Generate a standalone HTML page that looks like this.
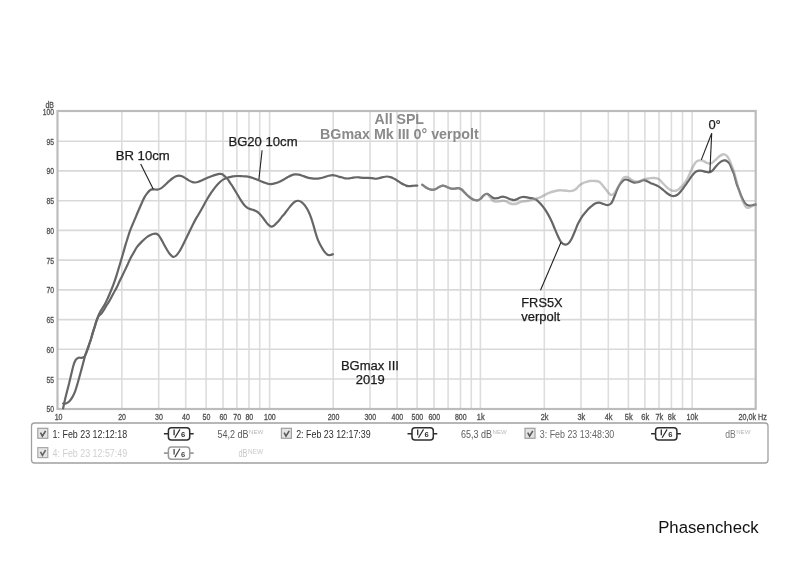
<!DOCTYPE html>
<html><head><meta charset="utf-8"><title>All SPL</title>
<style>
html,body{margin:0;padding:0;background:#fff;}
body{width:800px;height:566px;overflow:hidden;position:relative;}
svg{position:absolute;left:0;top:0;display:block;filter:grayscale(1);}
text{font-family:"Liberation Sans",sans-serif;}
.lab{stroke:#505050;stroke-width:0.3px;}
.ann{stroke:#1c1c1c;stroke-width:0.25px;}
</style></head><body>
<svg width="800" height="566" viewBox="0 0 800 566">
<rect x="0" y="0" width="800" height="566" fill="#fff"/>

<path d="M121.8 111V409M158.7 111V409M185.7 111V409M206.1 111V409M223.0 111V409M236.9 111V409M249.0 111V409M259.7 111V409M269.6 111V409M333.2 111V409M370.0 111V409M397.1 111V409M417.1 111V409M434.0 111V409M448.1 111V409M460.5 111V409M471.3 111V409M480.4 111V409M544.3 111V409M581.0 111V409M608.3 111V409M628.4 111V409M644.9 111V409M659.0 111V409M671.4 111V409M682.5 111V409M692.1 111V409" stroke="#dddddd" stroke-width="1.6" fill="none"/>
<path d="M58 379.0H755.6M58 349.3H755.6M58 319.6H755.6M58 289.9H755.6M58 260.1H755.6M58 230.4H755.6M58 200.7H755.6M58 170.9H755.6M58 141.2H755.6" stroke="#d9d9d9" stroke-width="1.6" fill="none"/>
<text x="374.5" y="124.2" font-size="14" font-weight="bold" fill="#8a8a8a" textLength="49.5" lengthAdjust="spacingAndGlyphs">All SPL</text>
<text x="320" y="139" font-size="14" font-weight="bold" fill="#8a8a8a" textLength="158.7" lengthAdjust="spacingAndGlyphs">BGmax Mk III 0&#176; verpolt</text>
<rect x="57.5" y="111" width="698.2" height="298" fill="none" stroke="#bcbcbc" stroke-width="2.2"/>
<path d="M63.10 408.50 C63.38 407.15 64.15 403.22 64.80 400.40 C65.45 397.58 66.27 394.52 67.00 391.60 C67.73 388.68 68.48 385.82 69.20 382.90 C69.92 379.98 70.58 377.03 71.30 374.10 C72.02 371.17 72.77 367.67 73.50 365.30 C74.23 362.93 74.87 361.17 75.70 359.90 C76.53 358.63 77.48 358.03 78.50 357.70 C79.52 357.37 80.80 358.08 81.80 357.90 C82.80 357.72 83.78 357.37 84.50 356.60 C85.22 355.83 85.55 354.57 86.10 353.30 C86.65 352.03 87.25 350.63 87.80 349.00 C88.35 347.37 88.92 345.00 89.40 343.50 C89.88 342.00 90.17 341.68 90.70 340.00 C91.23 338.32 91.95 335.55 92.60 333.40 C93.25 331.25 93.95 329.18 94.60 327.10 C95.25 325.02 95.85 322.83 96.50 320.90 C97.15 318.97 97.92 316.93 98.50 315.50 C99.08 314.07 99.37 313.47 100.00 312.30 C100.63 311.13 101.52 309.78 102.30 308.50 C103.08 307.22 103.92 306.03 104.70 304.60 C105.48 303.17 106.18 301.67 107.00 299.90 C107.82 298.13 108.78 295.92 109.60 294.00 C110.42 292.08 111.12 290.38 111.90 288.40 C112.68 286.42 113.50 284.35 114.30 282.10 C115.10 279.85 115.90 277.43 116.70 274.90 C117.50 272.37 118.30 269.58 119.10 266.90 C119.90 264.22 120.77 261.28 121.50 258.80 C122.23 256.32 122.82 254.37 123.50 252.00 C124.18 249.63 124.90 246.95 125.60 244.60 C126.30 242.25 127.00 240.10 127.70 237.90 C128.40 235.70 128.95 233.72 129.80 231.40 C130.65 229.08 131.90 226.17 132.80 224.00 C133.70 221.83 134.42 220.27 135.20 218.40 C135.98 216.53 136.72 214.65 137.50 212.80 C138.28 210.95 139.10 209.15 139.90 207.30 C140.70 205.45 141.50 203.43 142.30 201.70 C143.10 199.97 143.90 198.28 144.70 196.90 C145.50 195.52 146.30 194.45 147.10 193.40 C147.90 192.35 148.70 191.27 149.50 190.60 C150.30 189.93 151.10 189.60 151.90 189.40 C152.70 189.20 153.41 189.37 154.30 189.40 C155.19 189.43 156.13 189.77 157.25 189.60 C158.37 189.43 159.75 189.12 161.00 188.40 C162.25 187.68 163.50 186.38 164.75 185.25 C166.00 184.12 167.25 182.78 168.50 181.65 C169.75 180.53 171.00 179.40 172.25 178.50 C173.50 177.60 174.88 176.72 176.00 176.25 C177.12 175.78 178.00 175.65 179.00 175.65 C180.00 175.65 181.00 175.88 182.00 176.25 C183.00 176.62 183.88 177.21 185.00 177.90 C186.12 178.59 187.50 179.70 188.75 180.40 C190.00 181.10 191.38 181.75 192.50 182.10 C193.62 182.45 194.50 182.55 195.50 182.50 C196.50 182.45 197.40 182.18 198.50 181.80 C199.60 181.42 200.77 180.80 202.10 180.20 C203.43 179.60 205.03 178.82 206.50 178.20 C207.97 177.58 209.43 177.05 210.90 176.50 C212.37 175.95 213.83 175.35 215.30 174.90 C216.77 174.45 218.52 173.90 219.70 173.80 C220.88 173.70 221.52 173.85 222.40 174.30 C223.28 174.75 224.12 175.70 225.00 176.50 C225.88 177.30 226.82 178.00 227.70 179.10 C228.58 180.20 229.42 181.77 230.30 183.10 C231.18 184.43 232.12 185.70 233.00 187.10 C233.88 188.50 234.77 190.10 235.60 191.50 C236.43 192.90 237.27 194.27 238.00 195.50 C238.73 196.73 239.23 197.68 240.00 198.90 C240.77 200.12 241.73 201.60 242.60 202.80 C243.47 204.00 244.33 205.22 245.20 206.10 C246.07 206.98 246.92 207.60 247.80 208.10 C248.68 208.60 249.62 208.80 250.50 209.10 C251.38 209.40 252.23 209.58 253.10 209.90 C253.97 210.22 254.83 210.55 255.70 211.00 C256.57 211.45 257.43 211.88 258.30 212.60 C259.17 213.32 260.03 214.32 260.90 215.30 C261.77 216.28 262.63 217.37 263.50 218.50 C264.37 219.63 265.22 221.00 266.10 222.10 C266.98 223.20 267.92 224.33 268.80 225.10 C269.68 225.87 270.53 226.60 271.40 226.70 C272.27 226.80 273.13 226.30 274.00 225.70 C274.87 225.10 275.73 224.02 276.60 223.10 C277.47 222.18 278.33 221.23 279.20 220.20 C280.07 219.17 280.93 217.93 281.80 216.90 C282.67 215.87 283.52 215.08 284.40 214.00 C285.28 212.92 286.17 211.63 287.10 210.40 C288.03 209.17 289.28 207.50 290.00 206.60 C290.72 205.70 290.60 205.82 291.40 205.00 C292.20 204.18 293.67 202.41 294.80 201.70 C295.93 200.99 297.07 200.67 298.20 200.75 C299.33 200.83 300.47 201.39 301.60 202.20 C302.73 203.01 303.87 204.08 305.00 205.60 C306.13 207.12 307.37 209.22 308.40 211.30 C309.43 213.38 310.35 215.75 311.20 218.10 C312.05 220.45 312.75 222.87 313.50 225.40 C314.25 227.93 314.95 230.85 315.70 233.30 C316.45 235.75 317.15 238.02 318.00 240.10 C318.85 242.18 319.77 243.92 320.80 245.80 C321.83 247.68 323.07 249.90 324.20 251.40 C325.33 252.90 326.57 254.20 327.60 254.80 C328.63 255.40 329.52 255.10 330.40 255.00 C331.28 254.90 332.48 254.33 332.90 254.20" stroke="#666666" stroke-width="2.2" fill="none" stroke-linejoin="round" stroke-linecap="round"/>
<path d="M63.10 403.50 C63.57 403.50 64.88 403.83 65.90 403.50 C66.92 403.17 68.12 402.57 69.20 401.50 C70.28 400.43 71.40 398.83 72.40 397.10 C73.40 395.37 74.37 393.28 75.20 391.10 C76.03 388.92 76.67 386.47 77.40 384.00 C78.13 381.53 78.87 378.95 79.60 376.30 C80.33 373.65 81.07 370.83 81.80 368.10 C82.53 365.37 83.47 361.92 84.00 359.90 C84.53 357.88 84.55 357.47 85.00 356.00 C85.45 354.53 86.13 352.68 86.70 351.10 C87.27 349.52 87.73 348.35 88.40 346.50 C89.07 344.65 90.00 342.18 90.70 340.00 C91.40 337.82 91.95 335.55 92.60 333.40 C93.25 331.25 93.95 329.18 94.60 327.10 C95.25 325.02 95.83 322.72 96.50 320.90 C97.17 319.08 97.82 317.37 98.60 316.20 C99.38 315.03 100.32 314.93 101.20 313.90 C102.08 312.87 103.00 311.43 103.90 310.00 C104.80 308.57 105.62 306.92 106.60 305.30 C107.58 303.68 108.65 302.32 109.80 300.30 C110.95 298.28 112.35 295.32 113.50 293.20 C114.65 291.08 115.63 289.72 116.70 287.60 C117.77 285.48 118.83 282.75 119.90 280.50 C120.97 278.25 122.25 275.83 123.10 274.10 C123.95 272.37 124.28 271.62 125.00 270.10 C125.72 268.58 126.48 266.98 127.40 265.00 C128.32 263.02 129.38 260.38 130.50 258.20 C131.62 256.02 133.00 253.78 134.10 251.90 C135.20 250.02 135.77 248.65 137.10 246.90 C138.43 245.15 140.45 243.05 142.10 241.40 C143.75 239.75 145.68 238.03 147.00 237.00 C148.32 235.97 149.04 235.70 150.00 235.20 C150.96 234.70 151.79 234.27 152.75 234.00 C153.71 233.73 154.81 233.42 155.75 233.60 C156.69 233.78 157.53 234.22 158.40 235.10 C159.28 235.98 160.07 237.33 161.00 238.90 C161.93 240.47 163.00 242.69 164.00 244.50 C165.00 246.31 166.00 248.12 167.00 249.75 C168.00 251.38 169.00 253.06 170.00 254.25 C171.00 255.44 172.00 256.65 173.00 256.90 C174.00 257.15 175.00 256.57 176.00 255.75 C177.00 254.93 178.00 253.50 179.00 252.00 C180.00 250.50 181.00 248.62 182.00 246.75 C183.00 244.88 183.95 242.89 185.00 240.75 C186.05 238.61 187.17 236.22 188.30 233.90 C189.43 231.58 190.63 229.13 191.80 226.80 C192.97 224.47 194.18 221.95 195.30 219.90 C196.42 217.85 197.37 216.45 198.50 214.50 C199.63 212.55 200.77 210.57 202.10 208.20 C203.43 205.83 205.03 202.80 206.50 200.30 C207.97 197.80 209.43 195.40 210.90 193.20 C212.37 191.00 213.83 188.93 215.30 187.10 C216.77 185.27 218.23 183.53 219.70 182.20 C221.17 180.87 222.63 179.90 224.10 179.10 C225.57 178.30 227.02 177.87 228.50 177.40 C229.98 176.93 231.52 176.53 233.00 176.30 C234.48 176.07 235.93 176.02 237.40 176.00 C238.87 175.98 240.53 176.13 241.80 176.20 C243.07 176.27 243.80 176.30 245.00 176.40 C246.20 176.50 247.67 176.53 249.00 176.80 C250.33 177.07 251.68 177.53 253.00 178.00 C254.32 178.47 255.58 179.07 256.90 179.60 C258.22 180.13 259.57 180.67 260.90 181.20 C262.23 181.73 263.57 182.33 264.90 182.80 C266.23 183.27 267.58 183.83 268.90 184.00 C270.22 184.17 271.48 184.00 272.80 183.80 C274.12 183.60 275.60 183.20 276.80 182.80 C278.00 182.40 278.84 181.95 280.00 181.40 C281.16 180.85 282.50 180.19 283.75 179.50 C285.00 178.81 286.25 177.93 287.50 177.25 C288.75 176.57 290.00 175.88 291.25 175.40 C292.50 174.93 293.75 174.53 295.00 174.40 C296.25 174.27 297.50 174.38 298.75 174.60 C300.00 174.82 301.25 175.33 302.50 175.75 C303.75 176.17 305.00 176.70 306.25 177.10 C307.50 177.50 308.75 177.90 310.00 178.15 C311.25 178.40 312.50 178.53 313.75 178.60 C315.00 178.67 316.25 178.70 317.50 178.60 C318.75 178.50 320.00 178.28 321.25 178.00 C322.50 177.72 323.75 177.28 325.00 176.90 C326.25 176.53 327.50 176.04 328.75 175.75 C330.00 175.46 331.25 175.15 332.50 175.15 C333.75 175.15 335.08 175.46 336.25 175.75 C337.42 176.04 338.58 176.65 339.50 176.90 C340.42 177.15 340.75 177.00 341.75 177.25 C342.75 177.50 344.25 178.21 345.50 178.40 C346.75 178.59 348.00 178.53 349.25 178.40 C350.50 178.27 351.75 177.79 353.00 177.60 C354.25 177.41 355.50 177.25 356.75 177.25 C358.00 177.25 359.25 177.50 360.50 177.60 C361.75 177.70 363.00 177.81 364.25 177.85 C365.50 177.89 366.75 177.80 368.00 177.85 C369.25 177.90 370.50 178.00 371.75 178.15 C373.00 178.30 374.25 178.75 375.50 178.75 C376.75 178.75 378.00 178.43 379.25 178.15 C380.50 177.88 381.75 177.38 383.00 177.10 C384.25 176.82 385.50 176.50 386.75 176.50 C388.00 176.50 389.24 176.72 390.50 177.10 C391.76 177.48 393.27 178.28 394.30 178.80 C395.33 179.32 395.92 179.72 396.70 180.20 C397.48 180.68 398.23 181.18 399.00 181.70 C399.77 182.22 400.52 182.82 401.30 183.30 C402.08 183.78 402.92 184.22 403.70 184.60 C404.48 184.98 405.23 185.33 406.00 185.60 C406.77 185.87 407.52 186.12 408.30 186.20 C409.08 186.28 409.92 186.17 410.70 186.10 C411.48 186.03 412.23 185.88 413.00 185.80 C413.77 185.72 414.58 185.63 415.30 185.60 C416.02 185.57 416.97 185.60 417.30 185.60" stroke="#666666" stroke-width="2.2" fill="none" stroke-linejoin="round" stroke-linecap="round"/>
<path d="M422.25 184.75 C422.81 185.18 424.48 186.59 425.60 187.30 C426.73 188.01 427.87 188.58 429.00 189.00 C430.13 189.42 431.27 189.80 432.40 189.80 C433.52 189.80 434.63 189.47 435.75 189.00 C436.87 188.53 437.98 187.57 439.10 187.00 C440.23 186.43 441.47 185.73 442.50 185.60 C443.53 185.47 444.37 185.87 445.30 186.20 C446.23 186.53 447.07 187.18 448.10 187.60 C449.13 188.02 450.37 188.52 451.50 188.70 C452.63 188.88 453.77 188.80 454.90 188.70 C456.02 188.60 457.13 187.97 458.25 188.10 C459.37 188.23 460.48 188.70 461.60 189.50 C462.73 190.30 463.90 191.82 465.00 192.90 C466.10 193.98 467.28 195.17 468.20 196.00 C469.12 196.83 469.57 197.28 470.50 197.90 C471.43 198.52 472.58 199.30 473.75 199.70 C474.92 200.10 476.36 200.46 477.50 200.30 C478.64 200.14 479.56 199.58 480.60 198.75 C481.64 197.92 482.70 196.13 483.75 195.30 C484.80 194.47 485.86 193.70 486.90 193.75 C487.94 193.80 488.86 194.88 490.00 195.60 C491.14 196.32 492.50 197.67 493.75 198.10 C495.00 198.53 496.46 198.33 497.50 198.20 C498.54 198.07 499.12 197.55 500.00 197.30 C500.88 197.05 501.87 196.70 502.80 196.70 C503.73 196.70 504.67 197.02 505.60 197.30 C506.53 197.58 507.46 198.03 508.40 198.40 C509.34 198.77 510.30 199.22 511.25 199.50 C512.20 199.78 513.16 200.14 514.10 200.10 C515.04 200.06 515.97 199.63 516.90 199.25 C517.83 198.87 518.77 198.18 519.70 197.80 C520.63 197.43 521.57 197.12 522.50 197.00 C523.43 196.88 524.37 197.00 525.30 197.10 C526.23 197.20 527.17 197.43 528.10 197.60 C529.03 197.77 529.96 197.92 530.90 198.10 C531.84 198.28 532.90 198.47 533.75 198.70 C534.60 198.93 535.25 199.03 536.00 199.50 C536.75 199.97 537.50 200.79 538.25 201.50 C539.00 202.21 539.75 202.93 540.50 203.75 C541.25 204.57 542.03 205.49 542.75 206.40 C543.47 207.31 543.84 207.75 544.80 209.20 C545.76 210.65 547.35 213.05 548.50 215.10 C549.65 217.15 550.65 219.20 551.70 221.50 C552.75 223.80 553.75 226.43 554.80 228.90 C555.85 231.37 556.93 234.08 558.00 236.30 C559.07 238.52 559.97 240.82 561.20 242.20 C562.43 243.58 564.17 244.43 565.40 244.60 C566.63 244.77 567.53 244.23 568.60 243.20 C569.67 242.17 570.73 240.43 571.80 238.40 C572.87 236.37 573.95 233.47 575.00 231.00 C576.05 228.53 576.87 226.07 578.10 223.60 C579.33 221.13 580.98 218.32 582.40 216.20 C583.82 214.08 585.18 212.48 586.60 210.90 C588.02 209.32 589.48 207.93 590.90 206.70 C592.32 205.47 593.70 204.18 595.10 203.50 C596.50 202.82 597.88 202.52 599.30 202.60 C600.72 202.68 602.18 203.58 603.60 204.00 C605.02 204.42 606.57 205.18 607.80 205.10 C609.03 205.02 610.13 204.35 611.00 203.50 C611.87 202.65 612.33 201.42 613.00 200.00 C613.67 198.58 614.33 196.67 615.00 195.00 C615.67 193.33 616.25 191.67 617.00 190.00 C617.75 188.33 618.53 186.52 619.50 185.00 C620.47 183.48 621.78 181.82 622.80 180.90 C623.82 179.98 624.67 179.63 625.60 179.50 C626.53 179.37 627.46 179.77 628.40 180.10 C629.34 180.43 630.22 181.08 631.25 181.50 C632.28 181.92 633.48 182.50 634.60 182.60 C635.73 182.70 636.87 182.38 638.00 182.10 C639.13 181.82 640.37 181.23 641.40 180.90 C642.43 180.57 643.27 180.05 644.20 180.10 C645.13 180.15 645.97 180.73 647.00 181.20 C648.03 181.67 649.27 182.38 650.40 182.90 C651.52 183.42 652.63 183.83 653.75 184.30 C654.87 184.77 656.06 185.20 657.10 185.70 C658.14 186.20 659.05 186.63 660.00 187.30 C660.95 187.97 661.86 188.90 662.80 189.70 C663.74 190.50 664.70 191.34 665.65 192.10 C666.60 192.86 667.56 193.65 668.50 194.25 C669.44 194.85 670.37 195.41 671.30 195.70 C672.23 195.99 673.15 196.12 674.10 196.00 C675.05 195.88 676.05 195.58 677.00 195.00 C677.95 194.42 678.87 193.50 679.80 192.50 C680.73 191.50 681.67 190.23 682.60 189.00 C683.53 187.77 684.46 186.40 685.40 185.10 C686.34 183.80 687.30 182.56 688.25 181.20 C689.20 179.84 690.16 178.25 691.10 176.95 C692.04 175.65 692.97 174.34 693.90 173.40 C694.83 172.46 695.77 171.77 696.70 171.30 C697.63 170.83 698.55 170.67 699.50 170.60 C700.45 170.53 701.48 170.72 702.40 170.90 C703.32 171.08 704.27 171.47 705.00 171.65 C705.73 171.83 706.03 171.89 706.80 172.00 C707.57 172.11 708.67 172.53 709.60 172.30 C710.53 172.07 711.37 171.55 712.40 170.60 C713.43 169.65 714.67 167.87 715.80 166.60 C716.93 165.33 718.07 163.98 719.20 163.00 C720.33 162.02 721.65 161.13 722.60 160.70 C723.55 160.27 724.15 160.30 724.90 160.40 C725.65 160.50 726.35 160.78 727.10 161.30 C727.85 161.82 728.65 162.33 729.40 163.50 C730.15 164.67 730.85 166.55 731.60 168.30 C732.35 170.05 733.08 171.50 733.90 174.00 C734.72 176.50 735.72 180.80 736.50 183.30 C737.28 185.80 737.90 187.12 738.60 189.00 C739.30 190.88 739.98 192.83 740.70 194.60 C741.42 196.37 742.18 198.18 742.90 199.60 C743.62 201.02 744.18 202.15 745.00 203.10 C745.82 204.05 746.87 204.88 747.80 205.30 C748.73 205.72 749.65 205.67 750.60 205.60 C751.55 205.53 752.67 205.05 753.50 204.90 C754.33 204.75 755.25 204.73 755.60 204.70" stroke="#666666" stroke-width="2.2" fill="none" stroke-linejoin="round" stroke-linecap="round"/>
<path d="M422.25 184.75 C422.81 185.18 424.48 186.59 425.60 187.30 C426.73 188.01 427.87 188.58 429.00 189.00 C430.13 189.42 431.27 189.80 432.40 189.80 C433.52 189.80 434.63 189.47 435.75 189.00 C436.87 188.53 437.98 187.57 439.10 187.00 C440.23 186.43 441.47 185.73 442.50 185.60 C443.53 185.47 444.37 185.87 445.30 186.20 C446.23 186.53 447.07 187.18 448.10 187.60 C449.13 188.02 450.37 188.52 451.50 188.70 C452.63 188.88 453.77 188.80 454.90 188.70 C456.02 188.60 457.13 187.97 458.25 188.10 C459.37 188.23 460.48 188.70 461.60 189.50 C462.73 190.30 463.90 191.82 465.00 192.90 C466.10 193.98 467.28 195.17 468.20 196.00 C469.12 196.83 469.57 197.28 470.50 197.90 C471.43 198.52 472.58 199.30 473.75 199.70 C474.92 200.10 476.36 200.46 477.50 200.30 C478.64 200.14 479.56 199.58 480.60 198.75 C481.64 197.92 482.70 196.11 483.75 195.30 C484.80 194.49 485.94 193.70 486.90 193.90 C487.86 194.10 488.65 195.52 489.50 196.50 C490.35 197.48 491.08 198.95 492.00 199.80 C492.92 200.65 493.67 201.37 495.00 201.60 C496.33 201.83 498.70 201.35 500.00 201.20 C501.30 201.05 501.87 200.70 502.80 200.70 C503.73 200.70 504.67 200.88 505.60 201.20 C506.53 201.52 507.46 202.17 508.40 202.60 C509.34 203.03 510.30 203.52 511.25 203.75 C512.20 203.98 513.16 204.04 514.10 204.00 C515.04 203.96 515.97 203.78 516.90 203.50 C517.83 203.22 518.77 202.63 519.70 202.30 C520.63 201.97 521.57 201.68 522.50 201.50 C523.43 201.32 524.37 201.32 525.30 201.20 C526.23 201.08 527.17 200.98 528.10 200.80 C529.03 200.62 529.96 200.36 530.90 200.10 C531.84 199.84 532.90 199.48 533.75 199.25 C534.60 199.02 535.06 198.97 536.00 198.70 C536.94 198.42 538.37 197.98 539.40 197.60 C540.43 197.22 541.27 196.85 542.20 196.40 C543.13 195.95 544.07 195.40 545.00 194.90 C545.93 194.40 546.87 193.83 547.80 193.40 C548.73 192.97 549.67 192.62 550.60 192.30 C551.53 191.98 552.46 191.77 553.40 191.50 C554.34 191.23 555.22 190.90 556.25 190.70 C557.28 190.50 558.48 190.33 559.60 190.30 C560.73 190.27 561.87 190.43 563.00 190.50 C564.13 190.57 565.27 190.60 566.40 190.70 C567.52 190.80 568.63 191.10 569.75 191.10 C570.87 191.10 572.16 190.97 573.10 190.70 C574.04 190.43 574.65 190.07 575.40 189.50 C576.15 188.93 576.85 188.00 577.60 187.25 C578.35 186.50 579.15 185.61 579.90 185.00 C580.65 184.39 581.35 184.02 582.10 183.60 C582.85 183.18 583.55 182.83 584.40 182.50 C585.25 182.17 586.27 181.85 587.20 181.60 C588.13 181.35 589.12 181.12 590.00 181.00 C590.88 180.88 591.67 180.90 592.50 180.90 C593.33 180.90 594.17 180.94 595.00 181.00 C595.83 181.06 596.75 181.08 597.50 181.25 C598.25 181.42 598.83 181.54 599.50 182.00 C600.17 182.46 600.83 183.25 601.50 184.00 C602.17 184.75 602.83 185.67 603.50 186.50 C604.17 187.33 604.83 188.17 605.50 189.00 C606.17 189.83 606.92 190.75 607.50 191.50 C608.08 192.25 608.42 192.96 609.00 193.50 C609.58 194.04 610.33 194.58 611.00 194.75 C611.67 194.92 612.42 194.79 613.00 194.50 C613.58 194.21 613.83 193.92 614.50 193.00 C615.17 192.08 616.08 190.57 617.00 189.00 C617.92 187.43 618.93 185.45 620.00 183.60 C621.07 181.75 622.27 179.00 623.40 177.90 C624.52 176.80 625.63 176.87 626.75 177.00 C627.87 177.13 628.98 178.05 630.10 178.70 C631.23 179.35 632.35 180.38 633.50 180.90 C634.65 181.42 635.68 181.83 637.00 181.80 C638.32 181.77 640.20 181.12 641.40 180.70 C642.60 180.27 643.27 179.58 644.20 179.25 C645.13 178.92 645.97 178.89 647.00 178.70 C648.03 178.51 649.27 178.22 650.40 178.10 C651.52 177.98 652.63 177.95 653.75 178.00 C654.87 178.05 656.06 178.05 657.10 178.40 C658.14 178.75 659.05 179.28 660.00 180.10 C660.95 180.92 661.86 182.30 662.80 183.30 C663.74 184.30 664.70 185.22 665.65 186.10 C666.60 186.98 667.56 187.88 668.50 188.60 C669.44 189.32 670.37 190.02 671.30 190.40 C672.23 190.78 673.15 190.90 674.10 190.90 C675.05 190.90 676.05 190.84 677.00 190.40 C677.95 189.96 678.87 189.08 679.80 188.25 C680.73 187.42 681.67 186.46 682.60 185.40 C683.53 184.34 684.46 183.30 685.40 181.90 C686.34 180.50 687.30 178.88 688.25 177.00 C689.20 175.12 690.16 172.62 691.10 170.60 C692.04 168.58 692.97 166.43 693.90 164.90 C694.83 163.37 695.77 162.15 696.70 161.40 C697.63 160.65 698.55 160.52 699.50 160.40 C700.45 160.28 701.48 160.47 702.40 160.70 C703.32 160.93 704.27 161.45 705.00 161.80 C705.73 162.15 706.03 162.52 706.80 162.80 C707.57 163.08 708.67 163.52 709.60 163.50 C710.53 163.48 711.37 163.35 712.40 162.70 C713.43 162.05 714.67 160.63 715.80 159.60 C716.93 158.57 718.07 157.35 719.20 156.50 C720.33 155.65 721.65 154.83 722.60 154.50 C723.55 154.17 724.15 154.22 724.90 154.50 C725.65 154.78 726.35 155.30 727.10 156.20 C727.85 157.10 728.65 158.35 729.40 159.90 C730.15 161.45 730.85 163.53 731.60 165.50 C732.35 167.47 733.20 169.53 733.90 171.70 C734.60 173.87 735.17 176.20 735.80 178.50 C736.43 180.80 737.05 183.20 737.70 185.50 C738.35 187.80 739.02 190.17 739.70 192.30 C740.38 194.43 741.12 196.47 741.80 198.30 C742.48 200.13 743.17 201.92 743.80 203.30 C744.43 204.68 745.00 205.83 745.60 206.60 C746.20 207.37 746.75 207.77 747.40 207.90 C748.05 208.03 748.73 207.68 749.50 207.40 C750.27 207.12 750.98 206.60 752.00 206.20 C753.02 205.80 755.00 205.20 755.60 205.00" stroke="#989898" stroke-width="2.4" fill="none" stroke-linejoin="round" stroke-linecap="round" stroke-opacity="0.57"/>
<text class="lab" x="54" y="412.2" font-size="8.5" fill="#505050" text-anchor="end" textLength="7.5" lengthAdjust="spacingAndGlyphs">50</text>
<text class="lab" x="54" y="382.5" font-size="8.5" fill="#505050" text-anchor="end" textLength="7.5" lengthAdjust="spacingAndGlyphs">55</text>
<text class="lab" x="54" y="352.8" font-size="8.5" fill="#505050" text-anchor="end" textLength="7.5" lengthAdjust="spacingAndGlyphs">60</text>
<text class="lab" x="54" y="323.1" font-size="8.5" fill="#505050" text-anchor="end" textLength="7.5" lengthAdjust="spacingAndGlyphs">65</text>
<text class="lab" x="54" y="293.4" font-size="8.5" fill="#505050" text-anchor="end" textLength="7.5" lengthAdjust="spacingAndGlyphs">70</text>
<text class="lab" x="54" y="263.6" font-size="8.5" fill="#505050" text-anchor="end" textLength="7.5" lengthAdjust="spacingAndGlyphs">75</text>
<text class="lab" x="54" y="233.9" font-size="8.5" fill="#505050" text-anchor="end" textLength="7.5" lengthAdjust="spacingAndGlyphs">80</text>
<text class="lab" x="54" y="204.2" font-size="8.5" fill="#505050" text-anchor="end" textLength="7.5" lengthAdjust="spacingAndGlyphs">85</text>
<text class="lab" x="54" y="174.4" font-size="8.5" fill="#505050" text-anchor="end" textLength="7.5" lengthAdjust="spacingAndGlyphs">90</text>
<text class="lab" x="54" y="144.7" font-size="8.5" fill="#505050" text-anchor="end" textLength="7.5" lengthAdjust="spacingAndGlyphs">95</text>
<text class="lab" x="54" y="115.0" font-size="8.5" fill="#505050" text-anchor="end" textLength="11.2" lengthAdjust="spacingAndGlyphs">100</text>
<text class="lab" x="54" y="107.8" font-size="8.5" fill="#505050" text-anchor="end" textLength="8.5" lengthAdjust="spacingAndGlyphs">dB</text>
<text class="lab" x="58.6" y="419.8" font-size="8.5" fill="#505050" text-anchor="middle" textLength="7.8" lengthAdjust="spacingAndGlyphs">10</text>
<text class="lab" x="122.1" y="419.8" font-size="8.5" fill="#505050" text-anchor="middle" textLength="7.8" lengthAdjust="spacingAndGlyphs">20</text>
<text class="lab" x="159.0" y="419.8" font-size="8.5" fill="#505050" text-anchor="middle" textLength="7.8" lengthAdjust="spacingAndGlyphs">30</text>
<text class="lab" x="186.0" y="419.8" font-size="8.5" fill="#505050" text-anchor="middle" textLength="7.8" lengthAdjust="spacingAndGlyphs">40</text>
<text class="lab" x="206.4" y="419.8" font-size="8.5" fill="#505050" text-anchor="middle" textLength="7.8" lengthAdjust="spacingAndGlyphs">50</text>
<text class="lab" x="223.3" y="419.8" font-size="8.5" fill="#505050" text-anchor="middle" textLength="7.8" lengthAdjust="spacingAndGlyphs">60</text>
<text class="lab" x="237.2" y="419.8" font-size="8.5" fill="#505050" text-anchor="middle" textLength="7.8" lengthAdjust="spacingAndGlyphs">70</text>
<text class="lab" x="249.3" y="419.8" font-size="8.5" fill="#505050" text-anchor="middle" textLength="7.8" lengthAdjust="spacingAndGlyphs">80</text>
<text class="lab" x="269.9" y="419.8" font-size="8.5" fill="#505050" text-anchor="middle" textLength="11.7" lengthAdjust="spacingAndGlyphs">100</text>
<text class="lab" x="333.5" y="419.8" font-size="8.5" fill="#505050" text-anchor="middle" textLength="11.7" lengthAdjust="spacingAndGlyphs">200</text>
<text class="lab" x="370.3" y="419.8" font-size="8.5" fill="#505050" text-anchor="middle" textLength="11.7" lengthAdjust="spacingAndGlyphs">300</text>
<text class="lab" x="397.4" y="419.8" font-size="8.5" fill="#505050" text-anchor="middle" textLength="11.7" lengthAdjust="spacingAndGlyphs">400</text>
<text class="lab" x="417.4" y="419.8" font-size="8.5" fill="#505050" text-anchor="middle" textLength="11.7" lengthAdjust="spacingAndGlyphs">500</text>
<text class="lab" x="434.3" y="419.8" font-size="8.5" fill="#505050" text-anchor="middle" textLength="11.7" lengthAdjust="spacingAndGlyphs">600</text>
<text class="lab" x="460.8" y="419.8" font-size="8.5" fill="#505050" text-anchor="middle" textLength="11.7" lengthAdjust="spacingAndGlyphs">800</text>
<text class="lab" x="480.7" y="419.8" font-size="8.5" fill="#505050" text-anchor="middle" textLength="7.8" lengthAdjust="spacingAndGlyphs">1k</text>
<text class="lab" x="544.6" y="419.8" font-size="8.5" fill="#505050" text-anchor="middle" textLength="7.8" lengthAdjust="spacingAndGlyphs">2k</text>
<text class="lab" x="581.3" y="419.8" font-size="8.5" fill="#505050" text-anchor="middle" textLength="7.8" lengthAdjust="spacingAndGlyphs">3k</text>
<text class="lab" x="608.6" y="419.8" font-size="8.5" fill="#505050" text-anchor="middle" textLength="7.8" lengthAdjust="spacingAndGlyphs">4k</text>
<text class="lab" x="628.7" y="419.8" font-size="8.5" fill="#505050" text-anchor="middle" textLength="7.8" lengthAdjust="spacingAndGlyphs">5k</text>
<text class="lab" x="645.2" y="419.8" font-size="8.5" fill="#505050" text-anchor="middle" textLength="7.8" lengthAdjust="spacingAndGlyphs">6k</text>
<text class="lab" x="659.3" y="419.8" font-size="8.5" fill="#505050" text-anchor="middle" textLength="7.8" lengthAdjust="spacingAndGlyphs">7k</text>
<text class="lab" x="671.7" y="419.8" font-size="8.5" fill="#505050" text-anchor="middle" textLength="7.8" lengthAdjust="spacingAndGlyphs">8k</text>
<text class="lab" x="692.4" y="419.8" font-size="8.5" fill="#505050" text-anchor="middle" textLength="11.7" lengthAdjust="spacingAndGlyphs">10k</text>
<text class="lab" x="738.4" y="419.8" font-size="8.5" fill="#505050" textLength="28.4" lengthAdjust="spacingAndGlyphs">20,0k Hz</text>
<text class="ann" x="115.7" y="160" font-size="13" fill="#1c1c1c" textLength="54" lengthAdjust="spacingAndGlyphs">BR 10cm</text>
<text class="ann" x="228.4" y="146.2" font-size="13" fill="#1c1c1c" textLength="69.2" lengthAdjust="spacingAndGlyphs">BG20 10cm</text>
<text class="ann" x="521.3" y="306.6" font-size="13" fill="#1c1c1c" textLength="41.3" lengthAdjust="spacingAndGlyphs">FRS5X</text>
<text class="ann" x="521.3" y="320.7" font-size="13" fill="#1c1c1c" textLength="38.9" lengthAdjust="spacingAndGlyphs">verpolt</text>
<text class="ann" x="340.9" y="370.4" font-size="13.3" fill="#1c1c1c" textLength="58" lengthAdjust="spacingAndGlyphs">BGmax III</text>
<text class="ann" x="355.8" y="384.4" font-size="13.3" fill="#1c1c1c" textLength="28.9" lengthAdjust="spacingAndGlyphs">2019</text>
<text class="ann" x="708.4" y="128.9" font-size="13" fill="#1c1c1c">0&#176;</text>
<text x="658.2" y="533.3" font-size="16.3" fill="#111" textLength="100.5" lengthAdjust="spacingAndGlyphs">Phasencheck</text>
<line x1="140.7" y1="164.0" x2="153.3" y2="189.3" stroke="#222" stroke-width="1.1"/>
<line x1="262.1" y1="150.2" x2="258.9" y2="179.2" stroke="#222" stroke-width="1.1"/>
<line x1="540.5" y1="290.3" x2="561.0" y2="242.3" stroke="#222" stroke-width="1.1"/>
<line x1="711.7" y1="133.2" x2="701.3" y2="159.9" stroke="#222" stroke-width="1.1"/>
<line x1="711.7" y1="133.2" x2="709.9" y2="171.8" stroke="#222" stroke-width="1.1"/>
<rect x="31.5" y="423" width="736.5" height="40" rx="3" ry="3" fill="none" stroke="#a0a0a0" stroke-width="1.3"/>
<rect x="37.8" y="428.3" width="10" height="10" fill="#e4e4e4" stroke="#a0a0a0" stroke-width="1.2"/><path d="M40.5 432.6L42.4 436.1L45.6 430.9" stroke="#5a5a5a" stroke-width="1.6" fill="none"/>
<text x="52.6" y="438" font-size="10.2" fill="#2e2e2e" textLength="74.5" lengthAdjust="spacingAndGlyphs">1: Feb 23 12:12:18</text>
<path d="M163.9 433.8H168.4M189.7 433.8H193.7" stroke="#2e2e2e" stroke-width="1.6"/><rect x="168.4" y="427.8" width="21.3" height="12.2" rx="3" ry="3" fill="#fff" stroke="#2e2e2e" stroke-width="1.5"/><path d="M174.1 429.6V435.2" stroke="#2e2e2e" stroke-width="1.3"/><path d="M174.9 437.8L179.9 429.4" stroke="#2e2e2e" stroke-width="1.2"/><text x="181.0" y="437.4" font-size="7.6" font-weight="bold" fill="#2e2e2e">6</text>
<text x="217.5" y="438" font-size="10.2" fill="#5a5a5a" textLength="31" lengthAdjust="spacingAndGlyphs">54,2 dB</text>
<text x="249.0" y="434.3" font-size="6" fill="#b8b8b8" textLength="14.2" lengthAdjust="spacingAndGlyphs">NEW</text>
<rect x="281.4" y="428.3" width="10" height="10" fill="#e4e4e4" stroke="#a0a0a0" stroke-width="1.2"/><path d="M284.1 432.6L286.0 436.1L289.2 430.9" stroke="#5a5a5a" stroke-width="1.6" fill="none"/>
<text x="296.2" y="438" font-size="10.2" fill="#2e2e2e" textLength="74.5" lengthAdjust="spacingAndGlyphs">2: Feb 23 12:17:39</text>
<path d="M407.5 433.8H412.0M433.3 433.8H437.3" stroke="#2e2e2e" stroke-width="1.6"/><rect x="412.0" y="427.8" width="21.3" height="12.2" rx="3" ry="3" fill="#fff" stroke="#2e2e2e" stroke-width="1.5"/><path d="M417.7 429.6V435.2" stroke="#2e2e2e" stroke-width="1.3"/><path d="M418.5 437.8L423.5 429.4" stroke="#2e2e2e" stroke-width="1.2"/><text x="424.6" y="437.4" font-size="7.6" font-weight="bold" fill="#2e2e2e">6</text>
<text x="461.1" y="438" font-size="10.2" fill="#5a5a5a" textLength="31" lengthAdjust="spacingAndGlyphs">65,3 dB</text>
<text x="492.6" y="434.3" font-size="6" fill="#b8b8b8" textLength="14.2" lengthAdjust="spacingAndGlyphs">NEW</text>
<rect x="525.0" y="428.3" width="10" height="10" fill="#e4e4e4" stroke="#a0a0a0" stroke-width="1.2"/><path d="M527.7 432.6L529.6 436.1L532.8 430.9" stroke="#5a5a5a" stroke-width="1.6" fill="none"/>
<text x="539.8" y="438" font-size="10.2" fill="#666" textLength="74.5" lengthAdjust="spacingAndGlyphs">3: Feb 23 13:48:30</text>
<path d="M651.1 433.8H655.6M676.9 433.8H680.9" stroke="#2e2e2e" stroke-width="1.6"/><rect x="655.6" y="427.8" width="21.3" height="12.2" rx="3" ry="3" fill="#fff" stroke="#2e2e2e" stroke-width="1.5"/><path d="M661.3 429.6V435.2" stroke="#2e2e2e" stroke-width="1.3"/><path d="M662.1 437.8L667.1 429.4" stroke="#2e2e2e" stroke-width="1.2"/><text x="668.2" y="437.4" font-size="7.6" font-weight="bold" fill="#2e2e2e">6</text>
<text x="725.2" y="438" font-size="10.2" fill="#777" textLength="10.5" lengthAdjust="spacingAndGlyphs">dB</text>
<text x="736.2" y="434.3" font-size="6" fill="#b8b8b8" textLength="14.2" lengthAdjust="spacingAndGlyphs">NEW</text>
<rect x="37.8" y="447.6" width="10" height="10" fill="#e4e4e4" stroke="#a8a8a8" stroke-width="1.2"/><path d="M40.5 451.9L42.4 455.4L45.6 450.2" stroke="#666" stroke-width="1.6" fill="none"/>
<text x="52.6" y="457" font-size="10.2" fill="#cfcfcf" textLength="74.5" lengthAdjust="spacingAndGlyphs">4: Feb 23 12:57:49</text>
<path d="M163.9 453.1H168.4M189.7 453.1H193.7" stroke="#9a9a9a" stroke-width="1.6"/><rect x="168.4" y="447.1" width="21.3" height="12.2" rx="3" ry="3" fill="#fff" stroke="#9a9a9a" stroke-width="1.5"/><path d="M174.1 448.9V454.5" stroke="#444" stroke-width="1.3"/><path d="M174.9 457.1L179.9 448.7" stroke="#444" stroke-width="1.2"/><text x="181.0" y="456.7" font-size="7.6" font-weight="bold" fill="#444">6</text>
<text x="238.4" y="457" font-size="10.2" fill="#c8c8c8" textLength="9" lengthAdjust="spacingAndGlyphs">dB</text>
<text x="248" y="453.6" font-size="6.3" fill="#c8c8c8" textLength="15" lengthAdjust="spacingAndGlyphs">NEW</text>
</svg>
</body></html>
